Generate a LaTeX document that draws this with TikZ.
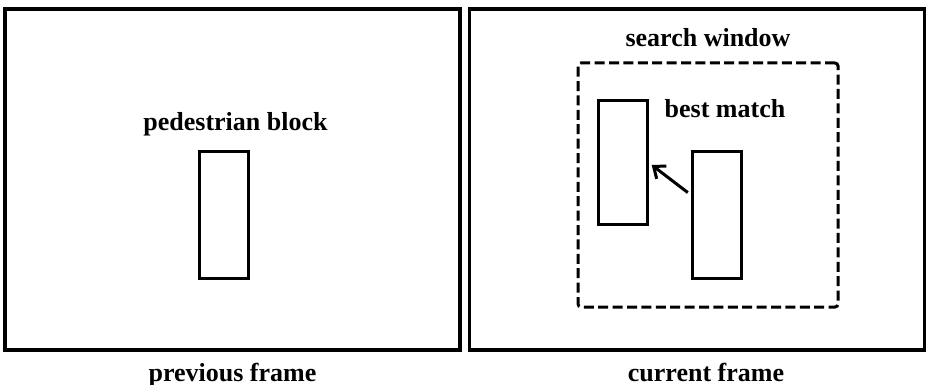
\documentclass[tikz,border=0pt]{standalone}
\usepackage{fontspec}
\setmainfont{Liberation Serif}
\usetikzlibrary{arrows.meta, positioning}

\begin{document}
\begin{tikzpicture}[
    x=0.5pt, y=-0.5pt,
    frame/.style={
        draw,
        line width=1.75pt,
        minimum width=227.5pt,
        minimum height=170.5pt,
        inner sep=0pt
    },
    block/.style={
        draw,
        line width=1.5pt,
        minimum width=24.5pt,
        minimum height=63pt,
        inner sep=0pt
    },
    window/.style={
        draw,
        dash pattern=on 5pt off 2.2pt,
        line width=1.5pt,
        rounded corners=1.5pt,
        minimum width=130pt,
        minimum height=122pt,
        inner sep=0pt
    },
    txt/.style={
        font=\fontsize{13}{15}\selectfont\bfseries,
        inner sep=0pt
    },
    flecha/.style={
        -{Straight Barb[length=5pt,width=8pt]},
        line width=1.5pt,
        shorten >=2pt,
        shorten <=2pt
    }
]
\useasboundingbox (0,0) rectangle (927,385);

% Frames
\node (prev) [frame] at (232.5,179.5) {};
\node (curr) [frame] at (697,179.5) {};

% Previous frame contents
\node (ped) [block] at (223.5,215) {};
\node [txt, above=7pt of ped, xshift=6pt] {pedestrian block};

% Current frame contents
\node (win) [window] at (708,185) {};
\node (match) [block, minimum height=61.5pt] at (622.5,162.5) {};
\node (cur) [block] at (717,215) {};
\node [txt, above=7pt of win] {search window};
\node [txt, above=16pt of cur, xshift=4pt] {best match};

\draw[flecha] ([yshift=10pt]cur.west) -- (match.east);

% Captions
\node [txt, below=5.5pt of prev] {previous frame};
\node [txt, below=5.5pt of curr, xshift=4.5pt] {current frame};

\end{tikzpicture}
\end{document}
